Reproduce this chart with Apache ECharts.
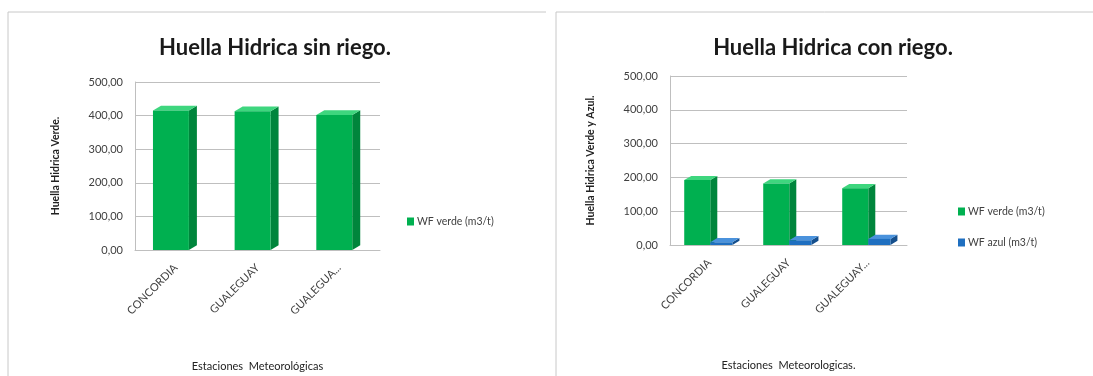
<!DOCTYPE html>
<html>
<head>
<meta charset="utf-8">
<script src="https://cdn.jsdelivr.net/npm/echarts@6/dist/echarts.min.js"></script>
<style>
  html, body { margin: 0; padding: 0; background: #ffffff; }
  #chart { width: 1093px; height: 376px; }
</style>
</head>
<body>
<div id="chart"></div>
<script>
// Estaciones meteorológicas
const categoriesSin = ['CONCORDIA', 'GUALEGUAY', 'GUALEGUA...'];
const categoriesCon = ['CONCORDIA', 'GUALEGUAY', 'GUALEGUAY...'];
// Huella hídrica (m3/t)
const verdeSinRiego = [415, 413, 402];
const verdeConRiego = [192, 182, 168];
const azulConRiego = [8, 14, 18];
const yTicks = [0, 100, 200, 300, 400, 500];

const GREEN = { front: '#00b050', side: '#00853c', top: '#3ed67e' };
const BLUE = { front: '#1f6fc0', side: '#154f8c', top: '#4a92dc' };

// Extruded bar: front face, right side and top drawn from the scale coordinates
function bar3d(colors, widthFrac, offsetFrac, depth) {
  return function (params, api) {
    const base = api.coord([api.value(0), 0]);
    const top = api.coord([api.value(0), api.value(1)]);
    const band = api.size([1, 0])[0];
    const w = band * widthFrac;
    const x0 = base[0] - band / 2 + band * offsetFrac;
    const x1 = x0 + w;
    const yb = base[1];
    const yt = top[1];
    const dx = depth, dy = depth * 0.6;
    return {
      type: 'group',
      children: [
        { type: 'polygon', shape: { points: [[x1, yt], [x1 + dx, yt - dy], [x1 + dx, yb - dy], [x1, yb]] },
          style: { fill: colors.side } },
        { type: 'polygon', shape: { points: [[x0, yt], [x0 + dx, yt - dy], [x1 + dx, yt - dy], [x1, yt]] },
          style: { fill: colors.top } },
        { type: 'rect', shape: { x: x0, y: yt, width: w, height: yb - yt },
          style: { fill: colors.front } }
      ]
    };
  };
}

const labelFont = { color: '#404040', fontSize: 11, fontFamily: 'Lato' };

function yAxisFor(gridIndex, name) {
  return {
    gridIndex: gridIndex, type: 'value', min: 0, max: 500, interval: 100,
    name: name, nameLocation: 'middle', nameGap: 74, nameRotate: 90,
    nameTextStyle: { fontSize: 10.5, fontWeight: 'bold', color: '#222', fontFamily: 'Lato' },
    axisLine: { show: true, lineStyle: { color: '#bfbfbf' } },
    axisTick: { show: false },
    axisLabel: Object.assign({ formatter: v => (yTicks.includes(v) ? v.toFixed(2).replace('.', ',') : ''), margin: 12 }, labelFont),
    splitLine: { lineStyle: { color: '#bfbfbf', width: 1 } }
  };
}

function xAxisFor(gridIndex, cats, name, gap) {
  return {
    gridIndex: gridIndex, type: 'category', data: cats,
    name: name, nameLocation: 'middle', nameGap: gap,
    nameTextStyle: { fontSize: 11, color: '#222', fontFamily: 'Lato' },
    axisLine: { lineStyle: { color: '#bfbfbf' } },
    axisTick: { show: false },
    axisLabel: Object.assign({ rotate: 45, margin: 16, interval: 0 }, labelFont)
  };
}

const chart = echarts.init(document.getElementById('chart'), null, { renderer: 'canvas' });

chart.setOption({
  backgroundColor: '#ffffff',
  animation: false,
  graphic: [
    { type: 'polyline', shape: { points: [[8, 376], [8, 12], [546, 12]] }, style: { stroke: '#c8c8c8', fill: null, lineWidth: 1 } },
    { type: 'polyline', shape: { points: [[556, 376], [556, 12], [1093, 12]] }, style: { stroke: '#c8c8c8', fill: null, lineWidth: 1 } }
  ],
  title: [
    { text: 'Huella Hidrica sin riego.', left: 270, top: 32, textAlign: 'center',
      textStyle: { fontSize: 22, fontWeight: 'bold', color: '#1a1a1a', fontFamily: 'Lato' } },
    { text: 'Huella Hidrica con riego.', left: 828, top: 32, textAlign: 'center',
      textStyle: { fontSize: 22, fontWeight: 'bold', color: '#1a1a1a', fontFamily: 'Lato' } }
  ],
  legend: [
    { data: [{ name: 'WF verde (m3/t)', icon: 'rect', itemStyle: { color: GREEN.front } }],
      left: 402, top: 211, itemWidth: 7, itemHeight: 8, itemGap: 5,
      textStyle: { fontSize: 10.5, color: '#404040', fontFamily: 'Lato', padding: [0, 0, 0, -2] } },
    { data: [{ name: 'WF verde (m3/t) ', icon: 'rect', itemStyle: { color: GREEN.front } },
             { name: 'WF azul (m3/t)', icon: 'rect', itemStyle: { color: BLUE.front } }],
      orient: 'vertical', left: 953, top: 201, itemWidth: 7, itemHeight: 8, itemGap: 20,
      textStyle: { fontSize: 10.5, color: '#404040', fontFamily: 'Lato', padding: [0, 0, 0, -2] } }
  ],
  grid: [
    { left: 135, right: 713, top: 82, bottom: 126 },
    { left: 670, right: 186, top: 76, bottom: 131 }
  ],
  xAxis: [
    xAxisFor(0, categoriesSin, 'Estaciones  Meteorológicas', 111),
    xAxisFor(1, categoriesCon, 'Estaciones  Meteorologicas.', 115)
  ],
  yAxis: [
    yAxisFor(0, 'Huella Hidrica Verde.'),
    yAxisFor(1, 'Huella Hidrica Verde y Azul.')
  ],
  series: [
    { name: 'WF verde (m3/t)', type: 'custom', xAxisIndex: 0, yAxisIndex: 0,
      renderItem: bar3d(GREEN, 0.44, 0.22, 8), encode: { x: 0, y: 1 },
      data: verdeSinRiego.map((v, i) => [i, v]) },
    { name: 'WF verde (m3/t) ', type: 'custom', xAxisIndex: 1, yAxisIndex: 1,
      renderItem: bar3d(GREEN, 0.33, 0.18, 7), encode: { x: 0, y: 1 },
      data: verdeConRiego.map((v, i) => [i, v]) },
    { name: 'WF azul (m3/t)', type: 'custom', xAxisIndex: 1, yAxisIndex: 1,
      renderItem: bar3d(BLUE, 0.28, 0.51, 7), encode: { x: 0, y: 1 },
      data: azulConRiego.map((v, i) => [i, v]) }
  ]
});
</script>
</body>
</html>
